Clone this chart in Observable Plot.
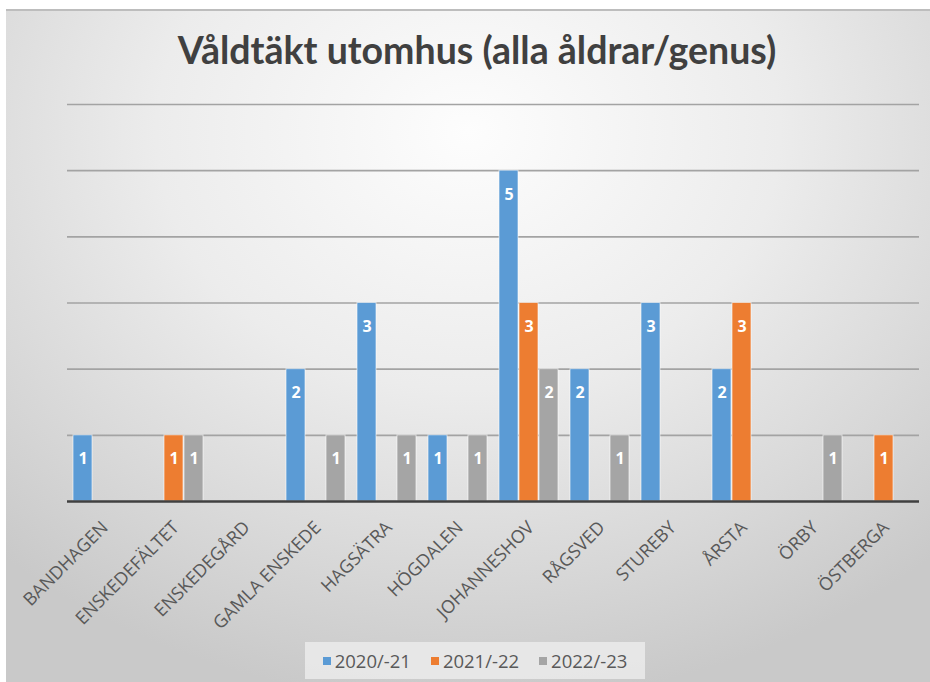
<!DOCTYPE html>
<html>
<head>
<meta charset="utf-8">
<script src="https://cdn.jsdelivr.net/npm/d3@7"></script>
<script src="https://cdn.jsdelivr.net/npm/@observablehq/plot@0.6"></script>
<style>
  html, body { margin: 0; padding: 0; background: #ffffff; }
  #chart {
    position: absolute; left: 6px; top: 9px; width: 924px; height: 673px;
    background: radial-gradient(ellipse 75% 85% at 50% 18%, #fdfdfd 0%, #ececec 45%, #d6d6d6 80%, #c9c9c9 100%);
    border-top: 2px solid #bdbdbd;
    overflow: hidden;
  }
  #title {
    position: absolute; left: 9px; top: 16px; width: 924px; text-align: center;
    font-family: Lato, "Open Sans", sans-serif; font-weight: bold; font-size: 37.5px; color: #404040;
  }
  #plot { position: absolute; left: -6px; top: -9px; }
  #legend {
    position: absolute; left: 299px; top: 631px; width: 340px; height: 37px;
    background: rgba(235,235,235,0.85);
    display: flex; align-items: center; justify-content: center; gap: 20px;
    font-family: "Open Sans", "Noto Sans", sans-serif; font-size: 18.5px; color: #595959;
  }
  #legend span.sw { display: inline-block; width: 8px; height: 8px; margin-right: 4px; vertical-align: 3px; }
</style>
</head>
<body>
<div id="chart">
  <div id="title">Våldtäkt utomhus (alla åldrar/genus)</div>
  <div id="plot"></div>
  <div id="legend"></div>
</div>
<script>
const categories = ["BANDHAGEN","ENSKEDEFÄLTET","ENSKEDEGÅRD","GAMLA ENSKEDE","HAGSÄTRA","HÖGDALEN","JOHANNESHOV","RÅGSVED","STUREBY","ÅRSTA","ÖRBY","ÖSTBERGA"];
const seriesNames = ["2020/-21","2021/-22","2022/-23"];
const colors = ["#5b9bd5","#ed7d31","#a5a5a5"];
const values2020 = [1,0,0,2,3,1,5,2,3,2,0,0];
const values2021 = [0,1,0,0,0,0,3,0,0,3,0,1];
const values2022 = [0,1,0,1,1,1,2,1,0,0,1,0];
const yTicks = [1,2,3,4,5,6];

const allSeries = [values2020, values2021, values2022];
const data = [];
categories.forEach((c, i) => {
  seriesNames.forEach((s, j) => {
    data.push({category: c, series: s, value: allSeries[j][i]});
  });
});
const nonZero = data.filter(d => d.value > 0);
const catData = categories.map(c => ({category: c}));

const plot = Plot.plot({
  width: 930,
  height: 640,
  marginLeft: 66,
  marginRight: 10,
  marginTop: 102,
  marginBottom: 141,
  style: {background: "transparent", fontFamily: "'Open Sans', 'Noto Sans', sans-serif", overflow: "visible"},
  fx: {domain: categories, padding: 0, label: null, axis: null},
  x: {domain: seriesNames, paddingInner: 0.05, paddingOuter: 0.3, axis: null},
  y: {domain: [0, 6], axis: null},
  color: {domain: seriesNames, range: colors},
  marks: [
    Plot.ruleY(yTicks, {stroke: "#a3a3a3", strokeWidth: 1.6}),
    Plot.barY(nonZero, {fx: "category", x: "series", y: "value", fill: "series", stroke: "#ffffff", strokeOpacity: 0.6, strokeWidth: 1}),
    Plot.text(nonZero, {fx: "category", x: "series", y: "value", text: d => String(d.value), dy: 24, fill: "#ffffff", fontWeight: "bold", fontSize: 16}),
    Plot.ruleY([0], {stroke: "#404040", strokeWidth: 2.6}),
    Plot.text(catData, {fx: "category", text: "category", frameAnchor: "bottom", dy: 23, dx: 2, rotate: -45, textAnchor: "end", lineAnchor: "middle", fontSize: 18, fill: "#595959"})
  ]
});
document.getElementById("plot").appendChild(plot);

const legend = document.getElementById("legend");
seriesNames.forEach((s, j) => {
  const item = document.createElement("div");
  item.innerHTML = `<span class="sw" style="background:${colors[j]}"></span>${s}`;
  legend.appendChild(item);
});
</script>
</body>
</html>
